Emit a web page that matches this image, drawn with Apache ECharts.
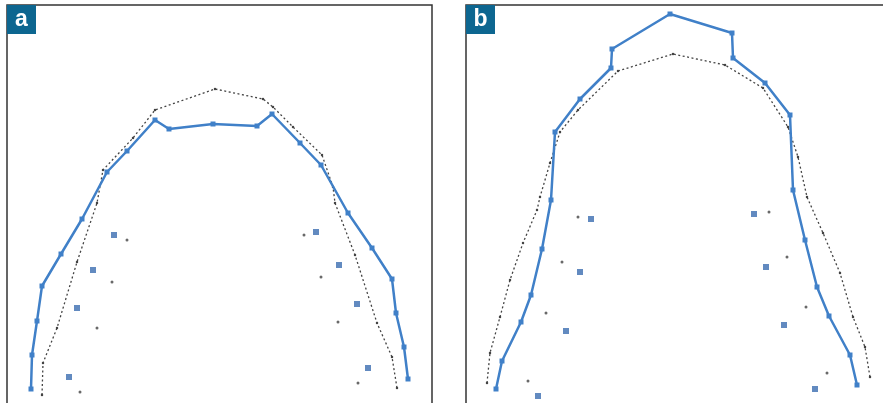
<!DOCTYPE html>
<html>
<head>
<meta charset="utf-8">
<script src="https://cdn.jsdelivr.net/npm/echarts@6/dist/echarts.min.js"></script>
<style>
  html, body { margin: 0; padding: 0; background: #fff; }
  #chart { width: 883px; height: 403px; }
</style>
</head>
<body>
<div id="chart"></div>
<script>
// panel a: measured arch (solid), reference arch (dashed), inner marks
const archA = [[24,16],[25,50],[30,84],[35,119],[54,151],[75,186],[100,233],[120,254],[148,285],[162,276],[206,281],[250,279],[265,291],[293,262],[314,240],[341,192],[365,157],[385,126],[389,92],[397,58],[401,26]]
const refA = [[35,10],[36,42],[50,77],[70,143],[90,202],[96,235],[126,267],[148,295],[208,316],[256,306],[266,298],[286,278],[315,250],[326,218],[328,202],[348,150],[370,82],[385,48],[390,17]]
const innerA = [[107,170],[86,135],[70,97],[62,28],[309,173],[332,140],[350,101],[361,37]]
const innerRefA = [[120,165],[105,123],[90,77],[73,13],[297,170],[314,128],[331,83],[351,22]]

// panel b
const archB = [[30,16],[36,44],[55,83],[65,110],[76,156],[85,205],[89,273],[114,306],[145,337],[146,356],[204,391],[266,372],[267,347],[299,322],[324,290],[327,215],[339,165],[351,118],[363,89],[384,50],[391,20]]
const refB = [[21,22],[24,52],[34,88],[44,125],[57,162],[71,195],[74,208],[84,242],[94,273],[112,295],[152,334],[207,351],[259,340],[297,317],[322,278],[332,248],[341,208],[357,172],[374,132],[387,88],[399,58],[404,28]]
const innerB = [[125,186],[114,133],[100,74],[72,9],[288,191],[300,138],[318,80],[349,16]]
const innerRefB = [[112,188],[96,143],[80,92],[62,24],[303,193],[321,148],[340,98],[361,32]]

const panelLabels = ['a', 'b']

const blue = '#4080c8'
const dark = '#444'

let chart = echarts.init(document.getElementById('chart'))

function panelSeries(idx, arch, ref, inner, innerRef) {
  return [
    {
      type: 'line', xAxisIndex: idx, yAxisIndex: idx, data: ref,
      symbol: 'circle', symbolSize: 2.5,
      itemStyle: { color: dark },
      lineStyle: { color: dark, width: 1.3, type: [2, 2.5] },
      z: 2
    },
    {
      type: 'line', xAxisIndex: idx, yAxisIndex: idx, data: arch,
      symbol: 'rect', symbolSize: 5,
      itemStyle: { color: blue },
      lineStyle: { color: blue, width: 2.5 },
      z: 3
    },
    {
      type: 'scatter', xAxisIndex: idx, yAxisIndex: idx, data: inner,
      symbol: 'rect', symbolSize: 6,
      itemStyle: { color: '#3b6db0' }
    },
    {
      type: 'scatter', xAxisIndex: idx, yAxisIndex: idx, data: innerRef,
      symbol: 'circle', symbolSize: 3,
      itemStyle: { color: dark }
    }
  ]
}

function labelBox(x, text) {
  return {
    type: 'group', left: x, top: 5,
    children: [
      { type: 'rect', shape: { x: 0, y: 0, width: 29, height: 29 }, style: { fill: '#0d6690' } },
      { type: 'text', x: 14.5, y: 15, style: { text: text, fill: '#fff', font: 'bold 23px "Liberation Sans", Arial, sans-serif', align: 'center', verticalAlign: 'middle' } }
    ]
  }
}

chart.setOption({
  animation: false,
  backgroundColor: '#fff',
  grid: [
    { left: 7, top: 5, width: 425, height: 410, outerBoundsMode: 'none', show: true, borderColor: '#333', borderWidth: 1.5, backgroundColor: 'transparent' },
    { left: 466, top: 5, width: 430, height: 410, outerBoundsMode: 'none', show: true, borderColor: '#333', borderWidth: 1.5, backgroundColor: 'transparent' }
  ],
  xAxis: [
    { type: 'value', min: 0, max: 425, gridIndex: 0, show: false },
    { type: 'value', min: 0, max: 430, gridIndex: 1, show: false }
  ],
  // y measured upward from 405 px; the extra 10 sits below the frame edge
  yAxis: [
    { type: 'value', min: -10, max: 400, gridIndex: 0, show: false },
    { type: 'value', min: -10, max: 400, gridIndex: 1, show: false }
  ],
  series: [
    ...panelSeries(0, archA, refA, innerA, innerRefA),
    ...panelSeries(1, archB, refB, innerB, innerRefB)
  ],
  graphic: [labelBox(7, panelLabels[0]), labelBox(466, panelLabels[1])]
})
</script>
</body>
</html>
